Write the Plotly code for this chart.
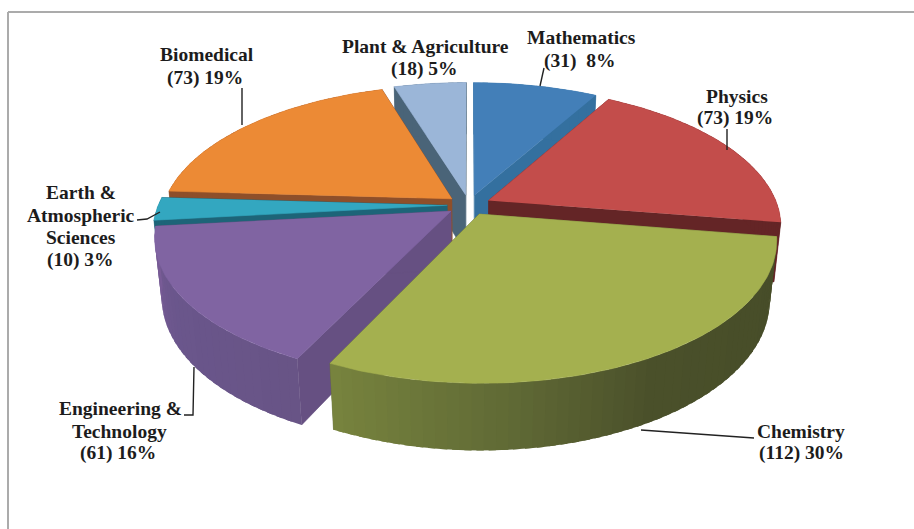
import math
import plotly.graph_objects as go

# ---- chart data ----
categories = ["Mathematics", "Physics", "Chemistry", "Engineering & Technology",
              "Earth & Atmospheric Sciences", "Biomedical", "Plant & Agriculture"]
counts = [31, 73, 112, 61, 10, 73, 18]
top_colors = ["#437fb8", "#c34d4b", "#a4b04f", "#8064a2", "#33a7c0", "#ec8a35", "#9bb6d8"]
cut_colors = ["#34709f", "#642526", "#66703a", "#665082", "#1d6478", "#8e4f2a", "#4a6478"]
rim_colors = ["#34709f", "#642526", "#4a5029", "#6a558c", "#1d6478", "#8e4f2a", "#4a6478"]
draw_order = [6, 0, 5, 1, 4, 3, 2]

label_texts = [["Mathematics", "(31)  8%"], ["Physics", "(73) 19%"], ["Chemistry", "(112) 30%"],
               ["Engineering &", "Technology", "(61) 16%"],
               ["Earth &", "Atmospheric", "Sciences", "(10) 3%"],
               ["Biomedical", "(73) 19%"], ["Plant & Agriculture", "(18) 5%"]]
label_x = [[581, 580], [737, 735], [801, 801], [120, 119, 118], [81, 81, 81, 80], [207, 205], [425, 424]]
label_y = [[37, 61], [96, 118], [431, 453], [408, 431, 453], [192, 215, 237, 260], [54, 78], [46, 69]]
leaders = [[(544, 68), (540, 86)], [(727, 129), (727, 150)],
           [(641, 430), (754, 438)],
           [(194, 367), (193, 415), (184, 415)],
           [(137, 220), (147, 219), (160, 212)],
           [(242, 88), (242, 125)]]

# ---- projection of a tilted, exploded pie (pixel-space axes) ----
CX, CY, F, D, PITCH, HEIGHT, EXPLODE = 469.0, 205.0, 1445.0, 5.0, math.radians(28), 0.235, 0.075
sa, ca = math.sin(PITCH), math.cos(PITCH)


def project(x, y, z):
    depth = D + y * ca - z * sa
    return CX + F * x / depth, CY - F * (y * sa + z * ca) / depth


def mix(c1, c2, t):
    return tuple(a + (b - a) * t for a, b in zip(c1, c2))


def rgb(c):
    return "rgb(%d,%d,%d)" % tuple(round(v) for v in c)


def hex2(c):
    return tuple(int(c[i:i + 2], 16) for i in (1, 3, 5))


chem_stops = [(99, (70, 76, 40)), (150, (74, 80, 42)), (178, (98, 108, 54)), (206, (120, 132, 62))]
eng_stops = [(206, (104, 84, 134)), (240, (106, 86, 140)), (264, (122, 92, 152))]


def stops_color(stops, deg):
    if deg <= stops[0][0]:
        return stops[0][1]
    for (a, ca_), (b, cb_) in zip(stops, stops[1:]):
        if deg <= b:
            return mix(ca_, cb_, (deg - a) / (b - a))
    return stops[-1][1]


def polygon(fig, pts, color, width=0.6):
    fig.add_trace(go.Scatter(x=[p[0] for p in pts], y=[p[1] for p in pts], mode="lines", fill="toself",
                             fillcolor=color, line=dict(color=color, width=width),
                             hoverinfo="skip", showlegend=False))


fig = go.Figure()
total = sum(counts)
starts = []
acc = 0.0
for c in counts:
    starts.append(acc / total * 360)
    acc += c

for i in draw_order:
    a0 = starts[i]
    a1 = a0 + counts[i] / total * 360
    mid = math.radians((a0 + a1) / 2)
    ox, oy = EXPLODE * math.sin(mid), EXPLODE * math.cos(mid)
    pt = lambda deg, r, z: project(ox + r * math.sin(math.radians(deg)), oy + r * math.cos(math.radians(deg)), z)
    # cut faces
    for edge in (a0, a1):
        polygon(fig, [pt(edge, 0, 0), pt(edge, 1, 0), pt(edge, 1, -HEIGHT), pt(edge, 0, -HEIGHT)], cut_colors[i])
    # rim bands, overlapping slightly so no seams appear
    n = max(2, int((a1 - a0) / 2))
    for k in range(n):
        d0 = a0 + (a1 - a0) * k / n
        d1 = min(a1, a0 + (a1 - a0) * (k + 1.6) / n)
        dm = a0 + (a1 - a0) * (k + 0.5) / n
        if i == 2:
            col = stops_color(chem_stops, dm)
        elif i == 3:
            col = stops_color(eng_stops, dm)
        else:
            col = hex2(rim_colors[i])
        polygon(fig, [pt(d0, 1, 0), pt(d1, 1, 0), pt(d1, 1, -HEIGHT), pt(d0, 1, -HEIGHT)], rgb(col), 0)
    # top surface
    m = max(8, int(a1 - a0))
    top = [pt(0, 0, 0)] + [pt(a0 + (a1 - a0) * k / m, 1, 0) for k in range(m + 1)]
    polygon(fig, top, top_colors[i])

for line in leaders:
    fig.add_trace(go.Scatter(x=[p[0] for p in line], y=[p[1] for p in line], mode="lines",
                             line=dict(color="#222222", width=1.4), hoverinfo="skip", showlegend=False))

for texts, xs, ys in zip(label_texts, label_x, label_y):
    for txt, lx, ly in zip(texts, xs, ys):
        fig.add_annotation(x=lx, y=ly, text="<b>%s</b>" % txt, showarrow=False, xref="x", yref="y", align="center",
                           font=dict(family="Liberation Serif", size=19.5, color="#1c1c1c"))

border = "#ababab"
fig.add_shape(type="line", x0=8, x1=914, y0=12, y1=12, xref="x", yref="y", line=dict(color=border, width=2))
fig.add_shape(type="line", x0=8, x1=8, y0=12, y1=529, xref="x", yref="y", line=dict(color=border, width=2))

fig.update_layout(width=914, height=529, margin=dict(l=0, r=0, t=0, b=0), paper_bgcolor="white",
                  plot_bgcolor="white", showlegend=False,
                  xaxis=dict(range=[0, 914], visible=False, fixedrange=True),
                  yaxis=dict(range=[529, 0], visible=False, fixedrange=True))
fig.write_html("out.html", config=dict(displayModeBar=False), post_script="document.body.style.margin='0';")
